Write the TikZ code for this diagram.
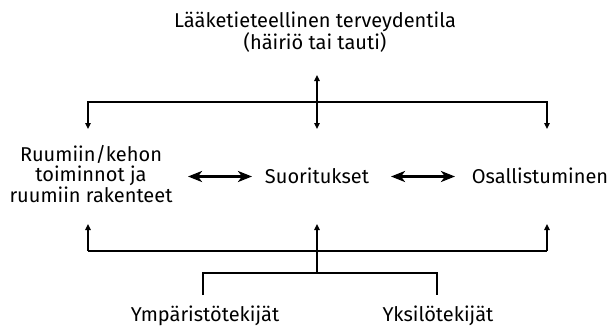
\documentclass[tikz,border=0pt]{standalone}
\usepackage{fontspec}
\setmainfont{Fira Sans}
\usetikzlibrary{arrows.meta}
\begin{document}
\begin{tikzpicture}[x=1pt,y=-1pt,
  lbl/.style={font=\fontsize{20}{19}\selectfont, align=center, inner sep=0pt},
  ln/.style={line width=2pt},
  upd/.style={ln,-{Triangle[length=6pt,width=5.5pt]}},
  dtip/.style={ln,{Triangle[length=6pt,width=5.5pt]}-{Triangle[length=6pt,width=5.5pt]}},
  bigarrow/.style={line width=2.6pt,{Stealth[length=14pt,width=11pt,inset=4pt]}-{Stealth[length=14pt,width=11pt,inset=4pt]}}]
\useasboundingbox (0,0) rectangle (613,327);
% text nodes
\node[lbl,font=\fontsize{20}{19.5}\selectfont] (title) at (315,32) {Lääketieteellinen terveydentila\\(häiriö tai tauti)};
\node[lbl,font=\fontsize{20}{19.5}\selectfont] (body) at (91,174) {Ruumiin/kehon\\toiminnot ja\\ruumiin rakenteet};
\node[lbl,anchor=base] (suor) at (317,183) {Suoritukset};
\node[lbl,anchor=base] (osal) at (540,183) {Osallistuminen};
\node[lbl,anchor=base] (ymp) at (205,321) {Ympäristötekijät};
\node[lbl,anchor=base] (yks) at (438,321) {Yksilötekijät};
% junction coordinates
\coordinate (tU) at (317,75);
\coordinate (tC) at (317,102);
\coordinate (tD) at (317,129);
\coordinate (tL) at (88,102);
\coordinate (tLd) at (88,129);
\coordinate (tR) at (547,102);
\coordinate (tRd) at (547,129);
\coordinate (bL) at (88,251);
\coordinate (bLu) at (88,224);
\coordinate (bC) at (317,251);
\coordinate (bCu) at (317,224);
\coordinate (bR) at (547,251);
\coordinate (bRu) at (547,224);
\coordinate (sC) at (317,273);
\coordinate (sL) at (203,273);
\coordinate (sLd) at (203,295);
\coordinate (sR) at (437,273);
\coordinate (sRd) at (437,295);
% top connectors
\draw[dtip] (tU) -- (tD);
\draw[upd] (tC) -- (tL) -- (tLd);
\draw[upd] (tC) -- (tR) -- (tRd);
% horizontal double arrows
\draw[bigarrow] (188,176.5) coordinate (hA) -- (252,176.5) coordinate (hB);
\draw[bigarrow] (391,176.5) coordinate (hC) -- (455,176.5) coordinate (hD);
% bottom connectors
\draw[ln] (bL) -- (bR);
\draw[upd] (bL) -- (bLu);
\draw[upd] (bR) -- (bRu);
\draw[upd] (sC) -- (bCu);
\draw[ln] (sLd) -- (sL) -- (sR) -- (sRd);
\end{tikzpicture}
\end{document}
